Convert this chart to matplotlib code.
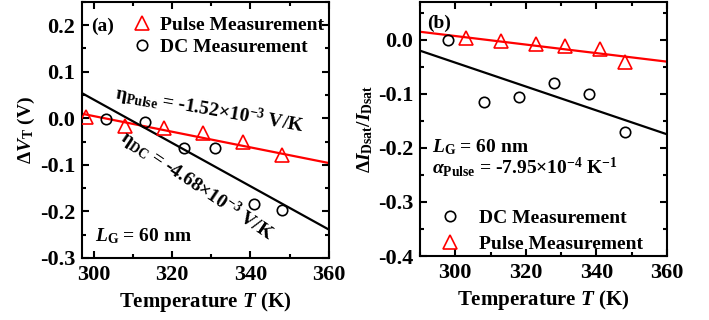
import numpy as np
import matplotlib
matplotlib.use('Agg')
import matplotlib.pyplot as plt
from matplotlib.ticker import MultipleLocator

# fonts: bold serif like Times
plt.rcParams['font.family'] = 'Liberation Serif'
plt.rcParams['font.weight'] = 'bold'
plt.rcParams['mathtext.fontset'] = 'custom'
plt.rcParams['mathtext.rm'] = 'Liberation Serif:bold'
plt.rcParams['mathtext.it'] = 'Liberation Serif:italic:bold'
plt.rcParams['mathtext.bf'] = 'Liberation Serif:bold'
plt.rcParams['axes.linewidth'] = 1.5
plt.rcParams['axes.unicode_minus'] = False

# (a) threshold voltage shift
a_pulse_T = [298, 308, 318, 328, 338, 348]
a_pulse_dV = [0.002, -0.016, -0.021, -0.031, -0.050, -0.079]
a_dc_T = [303, 313, 323, 331, 341, 348]
a_dc_dV = [-0.001, -0.007, -0.064, -0.064, -0.184, -0.198]
# fit lines: value at 300 K and slope per K
a_pulse_fit = (0.0047, -1.68e-3)
a_dc_fit = (0.040, -4.65e-3)

# (b) saturation current change
b_dc_T = [298, 308, 318, 328, 338, 348]
b_dc_dI = [0.0, -0.115, -0.106, -0.080, -0.100, -0.171]
b_pulse_T = [303, 313, 323, 331, 341, 348]
b_pulse_dI = [0.0025, -0.0025, -0.0086, -0.011, -0.017, -0.042]
b_pulse_fit = (0.0069, -7.9e-4)
b_dc_fit = (-0.0423, -2.21e-3)

fs_tick = 16
fs_txt = 14

fig = plt.figure(figsize=(7.09, 3.2), dpi=100)
axa = fig.add_axes([0.1157, 0.194, 0.348, 0.80])
axb = fig.add_axes([0.5924, 0.200, 0.3484, 0.794])


def style(ax, xlim, ylim, ymaj, ymin):
    ax.set_xlim(*xlim)
    ax.set_ylim(*ylim)
    ax.xaxis.set_major_locator(MultipleLocator(20))
    ax.xaxis.set_minor_locator(MultipleLocator(10))
    ax.yaxis.set_major_locator(MultipleLocator(ymaj))
    ax.yaxis.set_minor_locator(MultipleLocator(ymin))
    ax.tick_params(which='both', direction='in', top=True, right=True,
                   width=1.5, labelsize=fs_tick, pad=5)
    ax.tick_params(which='major', length=5)
    ax.tick_params(which='minor', length=3)
    for lab in ax.get_xticklabels() + ax.get_yticklabels():
        lab.set_fontweight('bold')
    ax.set_xlabel('Temperature $\\mathit{T}$ (K)', fontsize=15,
                  fontweight='bold', labelpad=4)


def fit_line(ax, fit, xlim, color):
    x = np.array(xlim, dtype=float)
    y = fit[0] + fit[1] * (x - 300)
    ax.plot(x, y, color=color, lw=1.6, zorder=2)


# ---- panel (a)
style(axa, (297, 360), (-0.3, 0.25), 0.1, 0.05)
fit_line(axa, a_pulse_fit, (297, 360), 'red')
fit_line(axa, a_dc_fit, (297, 360), 'black')
hp, = axa.plot(a_pulse_T, a_pulse_dV, '^', ms=9.5, mfc='none', mec='red',
               mew=1.2, label='Pulse Measurement', zorder=3)
hd, = axa.plot(a_dc_T, a_dc_dV, 'o', ms=7.5, mfc='none', mec='black',
               mew=1.2, label='DC Measurement', zorder=3)
axa.legend(handles=[hp, hd], loc='upper left', bbox_to_anchor=(0.15, 0.99),
           frameon=False, fontsize=fs_txt, handletextpad=0.3,
           handlelength=1.2, labelspacing=0.25, borderaxespad=0.2)
axa.text(299.3, 0.198, '(a)', fontsize=fs_txt, fontweight='bold',
         ha='left', va='center')
axa.text(329.6, 0.018, 'η$_{\\mathrm{Pulse}}$ = -1.52×10$^{-3}$ V/K',
         fontsize=fs_txt, fontweight='bold', rotation=-10,
         rotation_mode='anchor', ha='center', va='center')
axa.text(326.3, -0.146, 'η$_{\\mathrm{DC}}$ = -4.68×10$^{-3}$ V/K',
         fontsize=fs_txt, fontweight='bold', rotation=-34,
         rotation_mode='anchor', ha='center', va='center')
axa.text(300.3, -0.254, '$\\mathit{L}_{\\mathrm{G}}$ = 60 nm',
         fontsize=fs_txt, fontweight='bold', ha='left', va='center')
axa.set_ylabel('Δ$\\mathit{V}_{\\mathrm{T}}$ (V)', fontsize=fs_txt,
               fontweight='bold', labelpad=2)

# ---- panel (b)
style(axb, (290, 360), (-0.4, 0.07), 0.1, 0.05)
fit_line(axb, b_pulse_fit, (290, 360), 'red')
fit_line(axb, b_dc_fit, (290, 360), 'black')
hd2, = axb.plot(b_dc_T, b_dc_dI, 'o', ms=7.5, mfc='none', mec='black',
                mew=1.2, label='DC Measurement', zorder=3)
hp2, = axb.plot(b_pulse_T, b_pulse_dI, '^', ms=9.5, mfc='none', mec='red',
                mew=1.2, label='Pulse Measurement', zorder=3)
axb.legend(handles=[hd2, hp2], loc='lower left', bbox_to_anchor=(0.025, -0.035),
           frameon=False, fontsize=fs_txt, handletextpad=0.9,
           handlelength=1.2, labelspacing=0.45, borderaxespad=0.2)
axb.text(292, 0.031, '(b)', fontsize=fs_txt, fontweight='bold',
         ha='left', va='center')
axb.text(293.3, -0.199, '$\\mathit{L}_{\\mathrm{G}}$ = 60 nm',
         fontsize=fs_txt, fontweight='bold', ha='left', va='center')
axb.text(293.3, -0.236, '$\\alpha_{\\mathrm{Pulse}}$ = -7.95×10$^{-4}$ K$^{-1}$',
         fontsize=fs_txt, fontweight='bold', ha='left', va='center')
axb.set_ylabel('Δ$\\mathit{I}_{\\mathrm{Dsat}}$/$\\mathit{I}_{\\mathrm{Dsat}}$',
               fontsize=fs_txt, fontweight='bold', labelpad=2)

fig.savefig('out.png', dpi=100)
